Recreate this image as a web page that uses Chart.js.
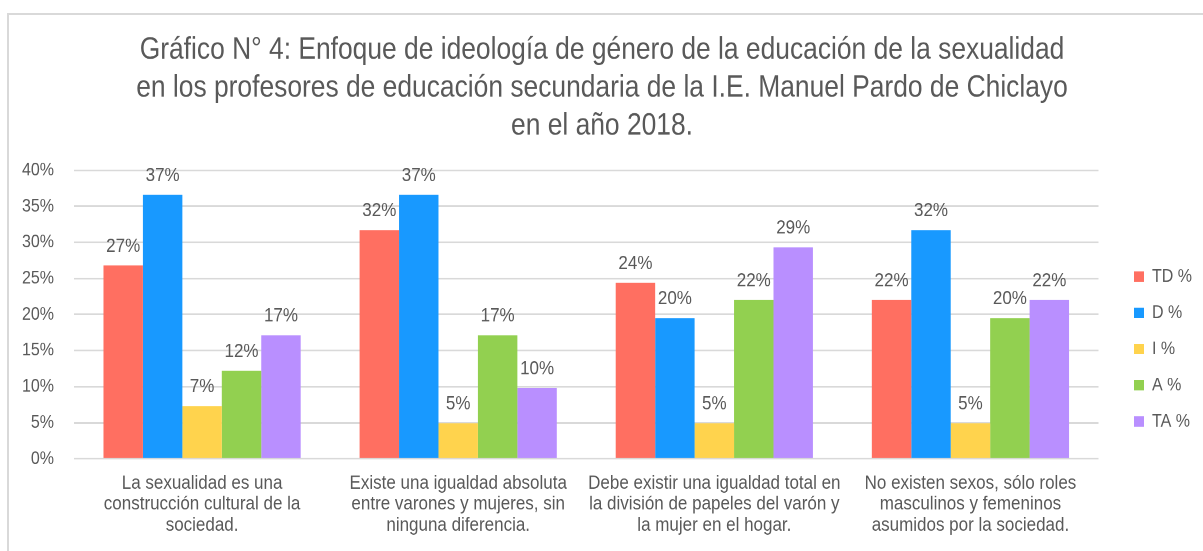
<!DOCTYPE html>
<html>
<head>
<meta charset="utf-8">
<script src="https://cdn.jsdelivr.net/npm/chart.js@4/dist/chart.umd.min.js"></script>
<style>
  html, body { margin: 0; padding: 0; background: #fff; overflow: hidden; }
  #frame {
    position: absolute; left: 7px; top: 13px; width: 1400px; height: 800px;
    border: 2px solid #d9d9d9; box-sizing: border-box;
  }
  /* the reference is slightly stretched vertically */
  #wrap {
    position: absolute; left: 0; top: 0; width: 1203px; height: 479px;
    transform: scaleY(1.15); transform-origin: 0 0;
  }
</style>
</head>
<body>
<div id="frame"></div>
<div id="wrap"><canvas id="chart"></canvas></div>
<script>
// categories (x labels, split in lines)
var categories = [
  ["La sexualidad es una", "construcción cultural de la", "sociedad."],
  ["Existe una igualdad absoluta", "entre varones y mujeres, sin", "ninguna diferencia."],
  ["Debe existir una igualdad total en", "la división de papeles del varón y", "la mujer en el hogar."],
  ["No existen sexos, sólo roles", "masculinos y femeninos", "asumidos por la sociedad."]
];

// series values (%)
var tdValues = [26.8, 31.7, 24.4, 22.0];
var dValues  = [36.6, 36.6, 19.5, 31.7];
var iValues  = [7.3, 4.9, 4.9, 4.9];
var aValues  = [12.2, 17.1, 22.0, 19.5];
var taValues = [17.1, 9.8, 29.3, 22.0];

var seriesNames = ["TD %", "D %", "I %", "A %", "TA %"];
var yTicks = [0, 5, 10, 15, 20, 25, 30, 35, 40];

var titleLines = [
  "Gráfico N° 4: Enfoque de ideología de género de la educación de la sexualidad",
  "en los profesores de educación secundaria de la I.E. Manuel Pardo de Chiclayo",
  "en el año 2018."
];

var colors = ["#ff6f61", "#1899ff", "#ffd34d", "#92d050", "#b98fff"];
var textColor = "#595959";
var fontFamily = "'Liberation Sans', Arial, sans-serif";

// value labels above the bars
var barLabels = {
  id: "barLabels",
  afterDatasetsDraw: function (chart) {
    var ctx = chart.ctx;
    ctx.save();
    ctx.fillStyle = textColor;
    ctx.font = "17px " + fontFamily;
    ctx.textAlign = "center";
    ctx.textBaseline = "alphabetic";
    chart.data.datasets.forEach(function (ds, i) {
      var meta = chart.getDatasetMeta(i);
      meta.data.forEach(function (bar, j) {
        ctx.fillText(Math.round(ds.data[j]) + "%", bar.x, bar.y - 12);
      });
    });
    ctx.restore();
  }
};

var ctx = document.getElementById("chart").getContext("2d");
var chart = new Chart(ctx, {
  type: "bar",
  data: {
    labels: categories,
    datasets: [
      { label: seriesNames[0], data: tdValues, backgroundColor: colors[0] },
      { label: seriesNames[1], data: dValues, backgroundColor: colors[1] },
      { label: seriesNames[2], data: iValues, backgroundColor: colors[2] },
      { label: seriesNames[3], data: aValues, backgroundColor: colors[3] },
      { label: seriesNames[4], data: taValues, backgroundColor: colors[4] }
    ]
  },
  options: {
    responsive: true,
    maintainAspectRatio: false,
    animation: false,
    devicePixelRatio: 2,
    categoryPercentage: 0.77,
    barPercentage: 1.0,
    layout: { padding: { top: 0, left: 2, right: 1, bottom: 1 } },
    plugins: {
      title: {
        display: true,
        text: titleLines,
        color: textColor,
        font: { family: fontFamily, size: 26.4, weight: "normal", lineHeight: 1.25 },
        padding: { top: 27, bottom: 22 }
      },
      legend: {
        position: "right",
        align: "center",
        // empty legend title only pushes the items down
        title: {
          display: true,
          text: "",
          font: { size: 10, lineHeight: 1 },
          padding: { top: 0, bottom: 119 }
        },
        labels: {
          color: textColor,
          font: { family: fontFamily, size: 16 },
          boxWidth: 10,
          boxHeight: 9,
          padding: 15.5
        }
      },
      tooltip: { enabled: false }
    },
    scales: {
      x: {
        grid: { display: false, drawTicks: false },
        border: { display: false },
        ticks: {
          color: textColor,
          font: { family: fontFamily, size: 17, lineHeight: 1.08 },
          padding: 12,
          maxRotation: 0,
          autoSkip: false
        }
      },
      y: {
        min: 0,
        max: 40,
        afterBuildTicks: function (scale) {
          scale.ticks = yTicks.map(function (v) { return { value: v }; });
        },
        grid: { color: "#d9d9d9", lineWidth: 1.5, drawTicks: false },
        border: { display: false },
        ticks: {
          color: textColor,
          font: { family: fontFamily, size: 16 },
          padding: 20,
          callback: function (v) { return v + "%"; }
        }
      },
      gap: {
        type: "linear",
        position: "right",
        grid: { display: false, drawTicks: false },
        border: { display: false },
        ticks: { display: false },
        afterFit: function (scale) { scale.width = 20; }
      }
    }
  },
  plugins: [barLabels]
});
</script>
</body>
</html>
